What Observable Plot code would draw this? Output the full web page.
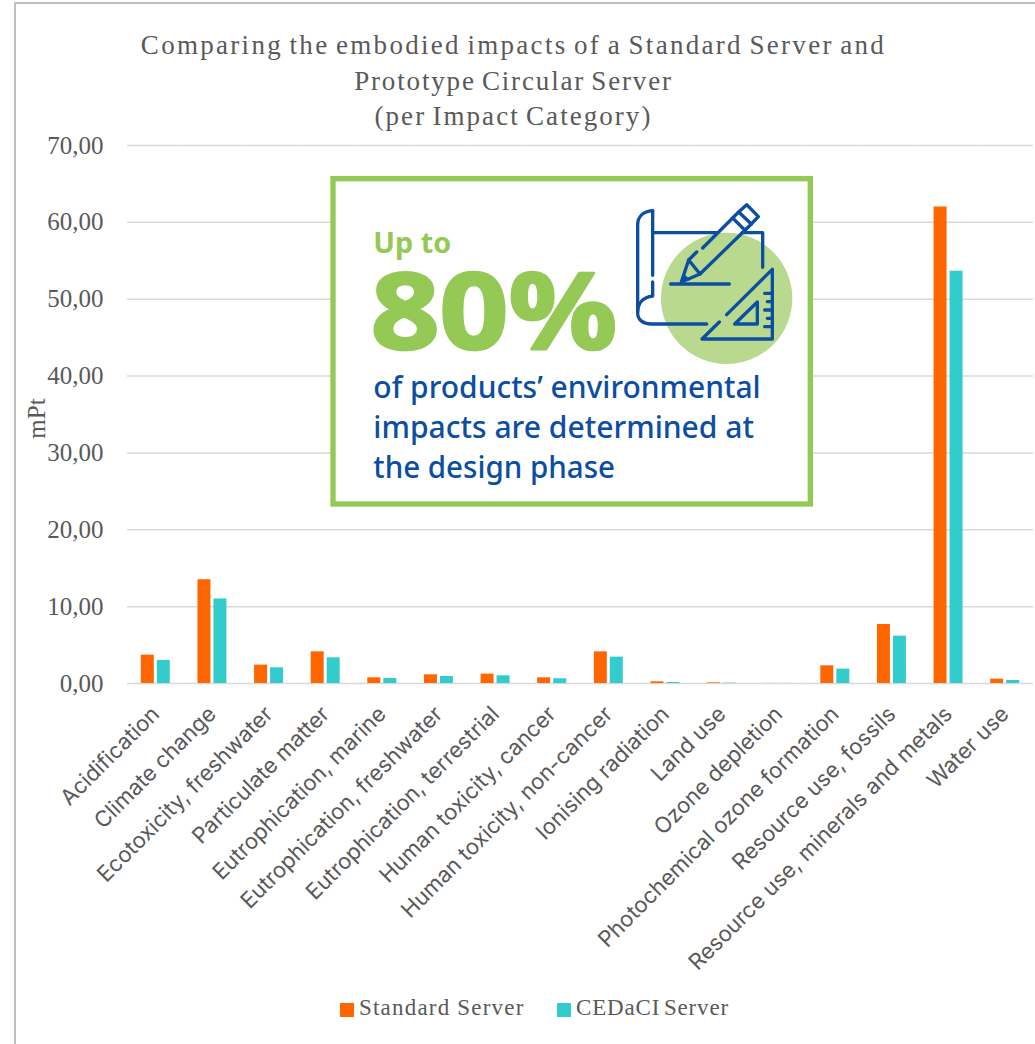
<!DOCTYPE html>
<html>
<head>
<meta charset="utf-8">
<script src="https://cdn.jsdelivr.net/npm/d3@7"></script>
<script src="https://cdn.jsdelivr.net/npm/@observablehq/plot@0.6"></script>
<style>
  html, body { margin: 0; padding: 0; background: #fff; overflow: hidden; }
  #page { position: relative; width: 1035px; height: 1044px; }
  #frame { position: absolute; left: 14px; top: 2px; right: 0; bottom: 0; border-left: 2px solid #bfbfbf; border-top: 2px solid #bfbfbf; pointer-events: none; }
  #title { position: absolute; left: 0; top: 28px; width: 1027px; text-align: center; font: 27px/35.5px "Liberation Serif", serif; word-spacing: -2.5px; color: #595959; }
  .legend-item { position: absolute; top: 993px; font: 23px/30px "Liberation Serif", serif; color: #595959; white-space: nowrap; }
  .swatch { position: absolute; top: 1003px; width: 14px; height: 14px; }
  #inset { position: absolute; left: 330px; top: 170px; }
</style>
</head>
<body>
<div id="page">
  <div id="chart"></div>
  <div id="frame"></div>
  <div id="title"></div>
  <div id="legend"></div>
  <svg id="inset" width="490" height="340" viewBox="0 0 1470 1020">
    <rect x="9" y="26" width="1432" height="976" fill="#fff" stroke="#93c954" stroke-width="16"/>
    <circle cx="1190" cy="385" r="197" fill="#b9d98f"/>
    <g fill="none" stroke="#0b4ea2" stroke-width="10" stroke-linecap="round" stroke-linejoin="round">
      <path d="M968 122 C940 124 923 140 923 165 V430 C923 450 940 462 965 462 H1130"/>
      <path d="M968 122 V316 M968 336 V378 C940 382 925 395 923 425"/>
      <path d="M968 188 H1160 M1236 188 H1298 V292"/>
      <path d="M1076 270 L1100 246 M1118 234 L1226 126 L1250 104 L1285 140 L1258 168 L1110 312 L1076 270"/>
      <path d="M1208 144 L1246 182 M1226 126 L1264 162"/>
      <path d="M1076 270 L1054 336 L1110 312"/>
      <path d="M1022 342 H1198"/>
      <path d="M1327 298 V507 H1116 L1168 456 M1190 434 L1327 298"/>
      <path d="M1282 396 V462 H1214 Z"/>
      <path d="M1327 370 H1304 M1327 395 H1312 M1327 420 H1304 M1327 445 H1312 M1327 470 H1304"/>
    </g>
    <path d="M1054 336 L1062 312 L1082 330 Z" fill="#0b4ea2"/>
    <g id="inset-text"></g>
  </svg>
</div>
<script>
// Single-score impact per category, in millipoints
const categories = [
  "Acidification", "Climate change", "Ecotoxicity, freshwater", "Particulate matter",
  "Eutrophication, marine", "Eutrophication, freshwater", "Eutrophication, terrestrial",
  "Human toxicity, cancer", "Human toxicity, non-cancer", "Ionising radiation", "Land use",
  "Ozone depletion", "Photochemical ozone formation", "Resource use, fossils",
  "Resource use, minerals and metals", "Water use"
];
const standardServer = [3.69, 13.5, 2.39, 4.12, 0.74, 1.13, 1.22, 0.74, 4.12, 0.22, 0.09, 0.01, 2.30, 7.68, 62.0, 0.56];
const cedaciServer = [3.00, 11.0, 2.04, 3.34, 0.65, 0.91, 1.00, 0.62, 3.43, 0.13, 0.05, 0.01, 1.87, 6.16, 53.65, 0.39];
const seriesNames = ["Standard Server", "CEDaCI Server"];
const seriesColors = ["#ff6600", "#33cccc"];
const yTicks = [0, 10, 20, 30, 40, 50, 60, 70];
const yLabel = "mPt";
const titleLines = [
  "Comparing the embodied impacts of a Standard Server and",
  "Prototype Circular Server",
  "(per Impact Category)"
];
const titleTracking = [2.3, 1.85, 2.05];
const insetLead = "Up to";
const insetFigure = "80%";
const insetLines = [
  "of products\u2019 environmental",
  "impacts are determined at",
  "the design phase"
];

const rows = categories.flatMap((category, i) => [
  {category, series: seriesNames[0], value: standardServer[i]},
  {category, series: seriesNames[1], value: cedaciServer[i]}
]);

const chart = Plot.plot({
  width: 1035,
  height: 1044,
  marginLeft: 127,
  marginRight: 2,
  marginTop: 145,
  marginBottom: 361,
  style: {background: "transparent"},
  fx: {domain: categories, padding: 0, round: false, label: null},
  x: {domain: seriesNames, paddingInner: 0.1875, paddingOuter: 0.865, round: false, axis: null},
  y: {domain: [0, 70], ticks: yTicks},
  color: {domain: seriesNames, range: seriesColors},
  marks: [
    Plot.gridY(yTicks, {stroke: "#d9d9d9", strokeOpacity: 1, strokeWidth: 1.5}),
    Plot.barY(rows, {fx: "category", x: "series", y: "value", fill: "series"}),
    Plot.axisY(yTicks, {
      tickSize: 0,
      tickPadding: 24,
      tickFormat: (d) => d3.format(".2f")(d).replace(".", ","),
      fontSize: 25,
      fontFamily: "Liberation Serif",
      color: "#595959",
      label: null
    }),
    // Rotated unit label beside the value axis, on the first column only
    Plot.text([yLabel], {
      facetAnchor: "left",
      frameAnchor: "left",
      textAnchor: "middle",
      dx: -91,
      dy: 4,
      rotate: -90,
      fontSize: 25,
      fontFamily: "Liberation Serif",
      fill: "#595959"
    }),
    Plot.axisFx({
      anchor: "bottom",
      tickSize: 0,
      tickPadding: 27,
      tickRotate: -45,
      label: null,
      lineWidth: Infinity,
      fontSize: 22,
      fontFamily: "Inter",
      color: "#595959"
    })
  ]
});
document.getElementById("chart").appendChild(chart);

// Title text
document.getElementById("title").innerHTML = titleLines
  .map((line, i) => `<div style="letter-spacing:${titleTracking[i]}px">${line}</div>`)
  .join("");

// Legend below the axis labels
const legendLayout = [
  {swatch: 340, text: 359, spacing: 1.2, words: 0},
  {swatch: 557, text: 576, spacing: 0.85, words: -3}
];
document.getElementById("legend").innerHTML = seriesNames.map((name, i) =>
  `<div class="swatch" style="left:${legendLayout[i].swatch}px;background:${seriesColors[i]}"></div>` +
  `<div class="legend-item" style="left:${legendLayout[i].text}px;letter-spacing:${legendLayout[i].spacing}px;word-spacing:${legendLayout[i].words}px">${name}</div>`
).join("");

// Call-out text, in the call-out's own 3x coordinates
const insetText = d3.select("#inset-text")
  .attr("font-family", "Noto Sans")
  .attr("font-weight", 700);
insetText.append("text").text(insetLead)
  .attr("x", 130).attr("y", 248).attr("font-size", 88).attr("fill", "#93c954")
  .attr("textLength", 234).attr("lengthAdjust", "spacingAndGlyphs");
insetText.append("text").text(insetFigure)
  .attr("x", 122).attr("y", 536).attr("font-size", 320).attr("fill", "#93c954")
  .attr("stroke", "#93c954").attr("stroke-width", 8).attr("stroke-linejoin", "round")
  .attr("textLength", 740).attr("lengthAdjust", "spacingAndGlyphs");
insetLines.forEach((line, i) => {
  insetText.append("text").text(line)
    .attr("x", 130).attr("y", 685 + i * 120).attr("font-size", 92).attr("font-weight", 500).attr("fill", "#0b4ea2")
    .attr("textLength", [1162, 1142, 725][i]).attr("lengthAdjust", "spacingAndGlyphs");
});
</script>
</body>
</html>
